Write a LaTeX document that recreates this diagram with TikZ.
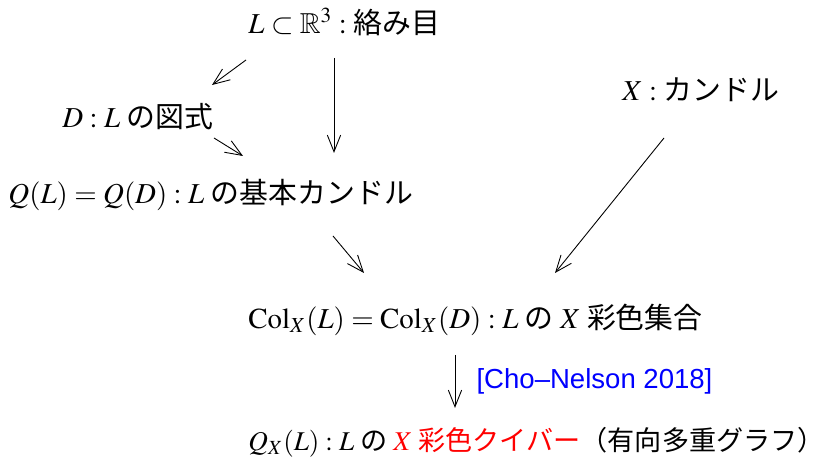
\documentclass[tikz,border=0pt,12pt]{standalone}
\usepackage{amssymb}
\usepackage{mathptmx}
\usepackage[no-math]{fontspec}
\setmainfont{Liberation Serif}
\newfontfamily\jp{Noto Sans CJK JP}
\newfontfamily\citefont{Liberation Sans}
\usetikzlibrary{arrows.meta,calc}
\begin{document}
\begin{tikzpicture}[
    x=0.45pt, y=-0.45pt,
    kuiverNode/.style={anchor=west, inner sep=0pt, font=\fontsize{13}{16}\selectfont\jp},
    kuiverArrow/.style={thin, -{Straight Barb[length=7.5pt,width=6pt]}},
    citeLabel/.style={anchor=west, inner sep=0pt, font=\fontsize{12.4}{15}\selectfont\citefont, text=blue}
]
\useasboundingbox (0,0) rectangle (840,462);
% objects
\node[kuiverNode] (knot) at (248,22) {$L\subset\mathbb{R}^3 :$ 絡み目};
\node[kuiverNode] (diag) at (62,117) {$D : L$ の図式};
\node[kuiverNode] (qdl) at (622,90) {$X :$ カンドル};
\node[kuiverNode] (fq) at (8,195) {$Q(L)=Q(D) : L$ の基本カンドル};
\node[kuiverNode] (col) at (248,320) {$\mathrm{Col}_X(L)=\mathrm{Col}_X(D) : L$ の $X$ 彩色集合};
\node[kuiverNode, font=\fontsize{12.2}{15}\selectfont\jp] (quiv) at (248,442)
    {$Q_X(L) : L$ の \textcolor{red}{$X$ 彩色クイバー}（有向多重グラフ）};

% arrows
\draw[kuiverArrow] ($(knot.west)+(-2,38)$) -- ($(diag.west)+(150,-32)$);
\draw[kuiverArrow] ($(knot.west)+(86,36)$) -- ($(fq.west)+(326,-42)$);
\draw[kuiverArrow] ($(diag.west)+(152,21)$) -- ($(fq.west)+(235,-39)$);
\draw[kuiverArrow] ($(fq.west)+(325,41)$) -- ($(col.west)+(116,-47)$);
\draw[kuiverArrow] ($(qdl.west)+(42,48)$) -- ($(col.west)+(307,-47)$);
\draw[kuiverArrow] ($(col.west)+(207,35)$) -- ($(quiv.west)+(207,-34)$)
    node[citeLabel, midway, xshift=9.5pt] {[Cho–Nelson 2018]};
\end{tikzpicture}
\end{document}
